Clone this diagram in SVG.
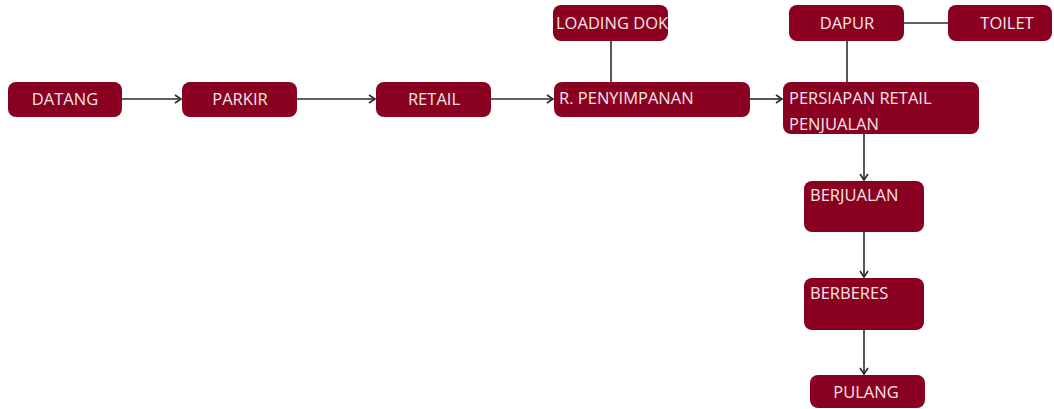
<svg xmlns="http://www.w3.org/2000/svg" width="1054" height="409" viewBox="0 0 1054 409">
<style>
.box{fill:#8a0020;}
.t{font-family:"Open Sans","Liberation Sans",sans-serif;font-size:16.5px;fill:#f3e6e8;}
.c{text-anchor:middle;}
.ln{stroke:#2b2b2b;stroke-width:1.6;fill:none;}
</style>
<defs>
<marker id="arr" markerWidth="10" markerHeight="10" refX="8" refY="5" orient="auto" markerUnits="userSpaceOnUse">
<path d="M2,1 L8,5 L2,9" fill="none" stroke="#2b2b2b" stroke-width="1.6"/>
</marker>
</defs>
<rect width="1054" height="409" fill="#ffffff"/>
<g id="connectors">
<line class="ln" x1="122" y1="99" x2="181" y2="99" marker-end="url(#arr)"/>
<line class="ln" x1="297" y1="99" x2="375" y2="99" marker-end="url(#arr)"/>
<line class="ln" x1="491" y1="99" x2="553" y2="99" marker-end="url(#arr)"/>
<line class="ln" x1="750" y1="99" x2="782" y2="99" marker-end="url(#arr)"/>
<line class="ln" x1="611" y1="41" x2="611" y2="82"/>
<line class="ln" x1="847" y1="41" x2="847" y2="82"/>
<line class="ln" x1="904" y1="23" x2="948" y2="23"/>
<line class="ln" x1="864" y1="134" x2="864" y2="180" marker-end="url(#arr)"/>
<line class="ln" x1="864" y1="232" x2="864" y2="277" marker-end="url(#arr)"/>
<line class="ln" x1="864" y1="330" x2="864" y2="374" marker-end="url(#arr)"/>
</g>
<g id="datang"><rect class="box" x="8" y="82" width="114" height="35" rx="8"/><text class="t c" x="65" y="105">DATANG</text></g>
<g id="parkir"><rect class="box" x="182" y="82" width="115" height="35" rx="8"/><text class="t c" x="240" y="105">PARKIR</text></g>
<g id="retail"><rect class="box" x="376" y="82" width="115" height="35" rx="8"/><text class="t c" x="434" y="105">RETAIL</text></g>
<g id="penyimpanan"><rect class="box" x="554" y="82" width="196" height="35" rx="8"/><text class="t" x="559" y="104">R. PENYIMPANAN</text></g>
<g id="loading-dok"><rect class="box" x="553" y="5" width="115" height="36" rx="8"/><text class="t" x="556" y="28.5">LOADING DOK</text></g>
<g id="dapur"><rect class="box" x="789" y="5" width="115" height="36" rx="8"/><text class="t c" x="847" y="28.5">DAPUR</text></g>
<g id="toilet"><rect class="box" x="948" y="5" width="104" height="36" rx="8"/><text class="t c" x="1007" y="28.5">TOILET</text></g>
<g id="persiapan"><rect class="box" x="783" y="82" width="196" height="52" rx="8"/><text class="t" x="789" y="103.5">PERSIAPAN RETAIL</text><text class="t" x="789" y="129.5">PENJUALAN</text></g>
<g id="berjualan"><rect class="box" x="804" y="181" width="120" height="51" rx="8"/><text class="t" x="810" y="201">BERJUALAN</text></g>
<g id="berberes"><rect class="box" x="804" y="278" width="120" height="52" rx="8"/><text class="t" x="810" y="299">BERBERES</text></g>
<g id="pulang"><rect class="box" x="810" y="375" width="115" height="33" rx="8"/><text class="t c" x="866" y="397.5">PULANG</text></g>
</svg>
